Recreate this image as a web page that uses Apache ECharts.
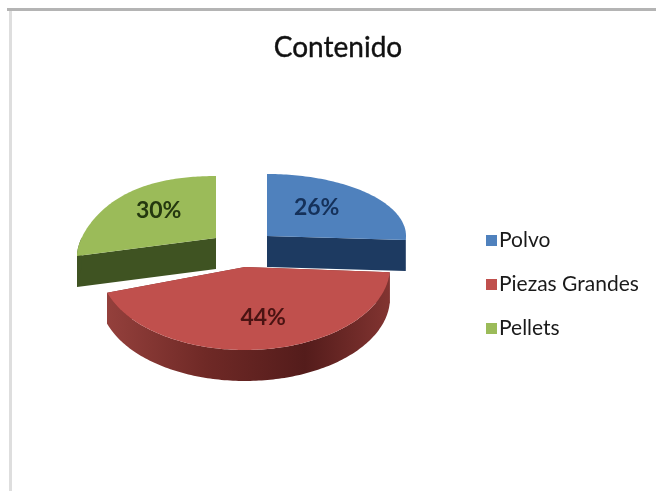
<!DOCTYPE html>
<html><head><meta charset="utf-8">
<script src="https://cdn.jsdelivr.net/npm/echarts@6/dist/echarts.min.js"></script>
<style>html,body{margin:0;padding:0;background:#fff}#c{width:656px;height:491px;filter:blur(0.45px)}</style>
</head><body><div id="c"></div>
<script>
var categories = ['Polvo', 'Piezas Grandes', 'Pellets'];
var values = [26, 44, 30];
var titleText = 'Contenido';
var topColors = ['#4f81bd', '#c0504d', '#9bbb59'];
var sideColors = ['#1d3a61', '#7a2e2c', '#3f5322'];
var labelColors = ['#15315a', '#4a1312', '#24380f'];
// layout of each exploded slice: centre, radii (back / front), label placement,
// perspective correction (squeeze of the drawn sweep, sag of the outer rim)
var layout = [
  {cx: 267, cy: 236, rx: 139, ryB: 62, ryF: 64, lx: 0.49, ly: 0.66, squeeze: 1, sag: 0},
  {cx: 245, cy: 267, rx: 145, ryB: 62, ryF: 83, lx: 1.0, ly: 0.62, squeeze: 1, sag: 0},
  {cx: 216, cy: 238, rx: 139, ryB: 62, ryF: 58, lx: 0.51, ly: 0.76, squeeze: 0.8333, sag: 18}
];
var depth = 31;
var total = values.reduce(function (a, b) { return a + b; }, 0);
var starts = [];
values.reduce(function (acc, v, i) { starts[i] = acc; return acc + v; }, 0);

function pt(g, a) {
  var t = 2 * Math.PI - (2 * Math.PI - a) * g.squeeze;
  var s = Math.sin(t), c = -Math.cos(t);
  return [g.cx + g.rx * s, g.cy + (c < 0 ? g.ryB : g.ryF) * c + g.sag * Math.pow(s, 4)];
}
function arc(g, a0, a1) {
  var n = Math.max(2, Math.ceil((a1 - a0) / 0.02)), out = [];
  for (var i = 0; i <= n; i++) out.push(pt(g, a0 + (a1 - a0) * i / n));
  return out;
}
function drop(ps) { return ps.map(function (p) { return [p[0], p[1] + depth]; }).reverse(); }

function render(i) {
  return function (params, api) {
    var start = api.value(0), val = api.value(1);
    var a0 = start / total * 2 * Math.PI, a1 = (start + val) / total * 2 * Math.PI;
    var g = layout[i], apex = [g.cx, g.cy], kids = [];
    var side = sideColors[i];
    var fill = i === 1 ? new echarts.graphic.LinearGradient(0, 0, 1, 0, [
      {offset: 0, color: '#94403c'}, {offset: 0.35, color: '#6f2926'},
      {offset: 0.7, color: '#541c1b'}, {offset: 1, color: '#823431'}]) : side;
    [[apex, pt(g, a0)], [apex, pt(g, a1)]].forEach(function (e) {
      kids.push({type: 'polygon', shape: {points: e.concat(drop(e))}, style: {fill: side}});
    });
    var fa0 = Math.max(a0, Math.PI / 2), fa1 = Math.min(a1, 1.5 * Math.PI);
    if (fa1 > fa0) {
      var rim = arc(g, fa0, fa1);
      kids.push({type: 'polygon', shape: {points: rim.concat(drop(rim))}, style: {fill: fill}});
    }
    kids.push({type: 'polygon', shape: {points: [apex].concat(arc(g, a0, a1))}, style: {fill: topColors[i]}});
    var m = (a0 + a1) / 2;
    kids.push({type: 'text', x: g.cx + g.rx * Math.sin(m) * g.lx, y: g.cy - Math.cos(m) * (Math.cos(m) > 0 ? g.ryB : g.ryF) * g.ly,
      style: {text: Math.round(val / total * 100) + '%', fill: labelColors[i], font: 'bold 23px Lato', align: 'center', verticalAlign: 'middle'}});
    return {type: 'group', children: kids};
  };
}

var order = [1, 0, 2];
var series = order.map(function (i) {
  return {
    type: 'custom', name: categories[i], coordinateSystem: 'none', silent: true,
    itemStyle: {color: topColors[i]},
    data: [[starts[i], values[i]]],
    renderItem: render(i)
  };
});

var chart = echarts.init(document.getElementById('c'), null, {renderer: 'canvas'});
chart.setOption({
  animation: false,
  backgroundColor: '#ffffff',
  title: {text: titleText, left: 333, top: 29, textAlign: 'center',
    textStyle: {fontFamily: 'Lato', fontSize: 28, fontWeight: 'normal', color: '#111111', textBorderColor: '#111111', textBorderWidth: 0.4}},
  legend: {
    orient: 'vertical', left: 481, top: 225, itemWidth: 11, itemHeight: 11, itemGap: 23, icon: 'rect',
    data: categories,
    textStyle: {fontFamily: 'Lato', fontSize: 21, color: '#1a1a1a', padding: [0, 0, 0, -3]}
  },
  graphic: [
    {type: 'rect', shape: {x: 7, y: 8, width: 649, height: 3}, style: {fill: '#b4b4b4'}, silent: true},
    {type: 'rect', shape: {x: 9, y: 11, width: 3, height: 480}, style: {fill: '#dedede'}, silent: true}
  ],
  series: series
});
</script></body></html>
